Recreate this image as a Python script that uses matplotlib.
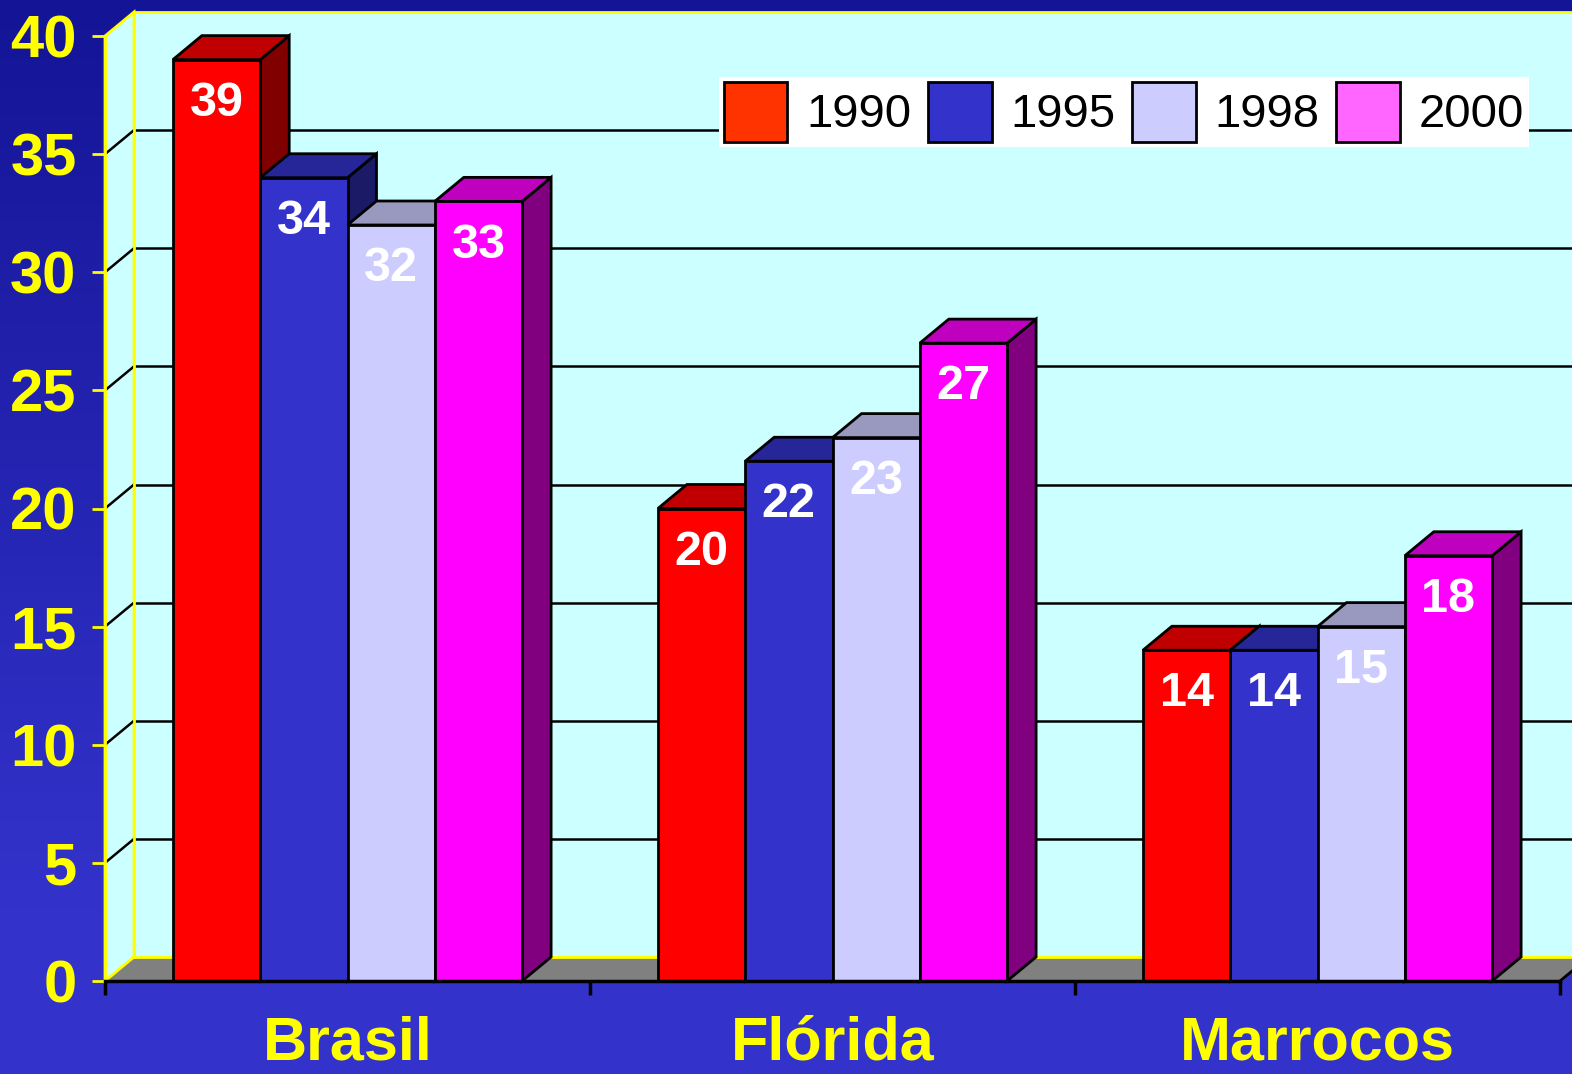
import numpy as np
import matplotlib
matplotlib.use('Agg')
import matplotlib.pyplot as plt
from matplotlib.patches import Polygon, Rectangle

plt.rcParams['font.family'] = ['Liberation Sans', 'DejaVu Sans']

# ---- data ----
categories = ['Brasil', 'Flórida', 'Marrocos']
years = ['1990', '1995', '1998', '2000']
v1990 = [39, 20, 14]
v1995 = [34, 22, 14]
v1998 = [32, 23, 15]
v2000 = [33, 27, 18]
series = [v1990, v1995, v1998, v2000]

# front / top / side / legend colours per series
front_cols = ['#FF0000', '#3333CC', '#CCCCFF', '#FF00FF']
top_cols = ['#C00000', '#262699', '#9999BF', '#BF00BF']
side_cols = ['#800000', '#1A1A66', '#666680', '#800080']
legend_cols = ['#FF3300', '#3333CC', '#CCCCFF', '#FF66FF']

W, H = 1572, 1074
fig = plt.figure(figsize=(W / 100, H / 100), dpi=100)

# background gradient (dark navy at top -> blue at bottom)
bg = fig.add_axes([0, 0, 1, 1], zorder=-10)
t = np.clip(np.linspace(0, 1, 256) / 0.85, 0, 1)[:, None]
top_c = np.array([20, 20, 150]) / 255
bot_c = np.array([51, 51, 204]) / 255
grad = top_c[None, None, :] * (1 - t[:, :, None]) + bot_c[None, None, :] * t[:, :, None]
bg.imshow(grad, aspect='auto', extent=[0, 1, 0, 1], origin='upper')
bg.axis('off')

x0, x1 = 105, 1560
y0, y1 = 981, 36
ax = fig.add_axes([x0 / W, (H - y0) / H, (x1 - x0) / W, (y0 - y1) / H])
ax.set_xlim(0, 3)
ax.set_ylim(0, 40)
ax.patch.set_visible(False)

# 3d depth in data units
DX = 29 / ((x1 - x0) / 3)
DY = 24 / ((y0 - y1) / 40)
XR = 3.3
WALL = '#CCFFFF'
YEL = '#FFFF00'

# back wall and side wall
ax.add_patch(Polygon([(DX, DY), (XR, DY), (XR, 40 + DY), (DX, 40 + DY)],
                     closed=True, fc=WALL, ec=YEL, lw=2, clip_on=False, zorder=0))
ax.add_patch(Polygon([(0, 0), (0, 40), (DX, 40 + DY), (DX, DY)],
                     closed=True, fc=WALL, ec=YEL, lw=2, clip_on=False, zorder=0.5))
# floor
ax.add_patch(Polygon([(0, 0), (3, 0), (3 + DX, DY), (DX, DY)],
                     closed=True, fc='#808080', ec='none', clip_on=False, zorder=1))
ax.plot([DX, XR], [DY, DY], color=YEL, lw=2, clip_on=False, zorder=1.2)
ax.plot([0, DX], [0, DY], color=YEL, lw=2, clip_on=False, zorder=1.2)
ax.plot([3, 3 + DX], [0, DY], color='black', lw=2, clip_on=False, zorder=1.2)
ax.plot([DX, DX], [DY, 40 + DY], color=YEL, lw=2, clip_on=False, zorder=1.2)

# gridlines on back and side walls
for g in range(5, 40, 5):
    ax.plot([DX, XR], [g + DY, g + DY], color='black', lw=1.8, clip_on=False, zorder=1.1)
    ax.plot([0, DX], [g, g + DY], color='black', lw=1.8, clip_on=False, zorder=1.1)

# bars
bw = 0.18
z = 3
for ci in range(len(categories)):
    start = ci + 0.5 - 2 * bw
    for si, vals in enumerate(series):
        v = vals[ci]
        xl = start + si * bw
        xr = xl + bw
        side = Polygon([(xr, 0), (xr + DX, DY), (xr + DX, v + DY), (xr, v)],
                       closed=True, fc=side_cols[si], ec='black', lw=2, zorder=z)
        top = Polygon([(xl, v), (xr, v), (xr + DX, v + DY), (xl + DX, v + DY)],
                      closed=True, fc=top_cols[si], ec='black', lw=2, zorder=z + 0.1)
        front = Rectangle((xl, 0), bw, v, fc=front_cols[si], ec='black', lw=2,
                          zorder=z + 0.2)
        for p in (side, top, front):
            p.set_joinstyle('miter')
            p.set_clip_on(False)
            ax.add_patch(p)
        ax.text(xl + bw / 2, v - 1.85, str(v), ha='center', va='center',
                color='white', fontsize=35, fontweight='bold', zorder=20)
        z += 1

# axes styling
for s in ('top', 'right'):
    ax.spines[s].set_visible(False)
ax.spines['left'].set_color(YEL)
ax.spines['left'].set_linewidth(2)
ax.spines['left'].set_zorder(2)
ax.spines['bottom'].set_color('black')
ax.spines['bottom'].set_linewidth(2.5)
ax.spines['bottom'].set_zorder(50)

ax.set_yticks(range(0, 41, 5))
ax.tick_params(axis='y', colors=YEL, length=9.5, width=2, pad=11,
               labelsize=43, labelcolor=YEL)
for lab in ax.get_yticklabels():
    lab.set_fontweight('bold')

ax.set_xticks([0, 1, 2, 3])
ax.set_xticklabels(['', '', '', ''])
ax.tick_params(axis='x', which='major', colors='black', length=10, width=2.5)
ax.set_xticks([0.5, 1.5, 2.5], minor=True)
ax.set_xticklabels(categories, minor=True)
ax.tick_params(axis='x', which='minor', length=0, pad=25, labelsize=44,
               labelcolor=YEL)
for lab in ax.get_xticklabels(minor=True):
    lab.set_fontweight('bold')

# legend
handles = [Rectangle((0, 0), 1, 1, fc=c, ec='black', lw=2) for c in legend_cols]
leg = ax.legend(handles, years, loc='center', bbox_to_anchor=(1124 / W, 1 - 112 / H),
                bbox_transform=fig.transFigure, ncol=4, fontsize=34, frameon=True,
                fancybox=False, framealpha=1, facecolor='white', edgecolor='none',
                handlelength=1.35, handleheight=1.6, handletextpad=0.4,
                columnspacing=0.35, borderpad=0.1, borderaxespad=0)
leg.set_zorder(100)

fig.savefig('out.png', dpi=100, facecolor=fig.get_facecolor())
